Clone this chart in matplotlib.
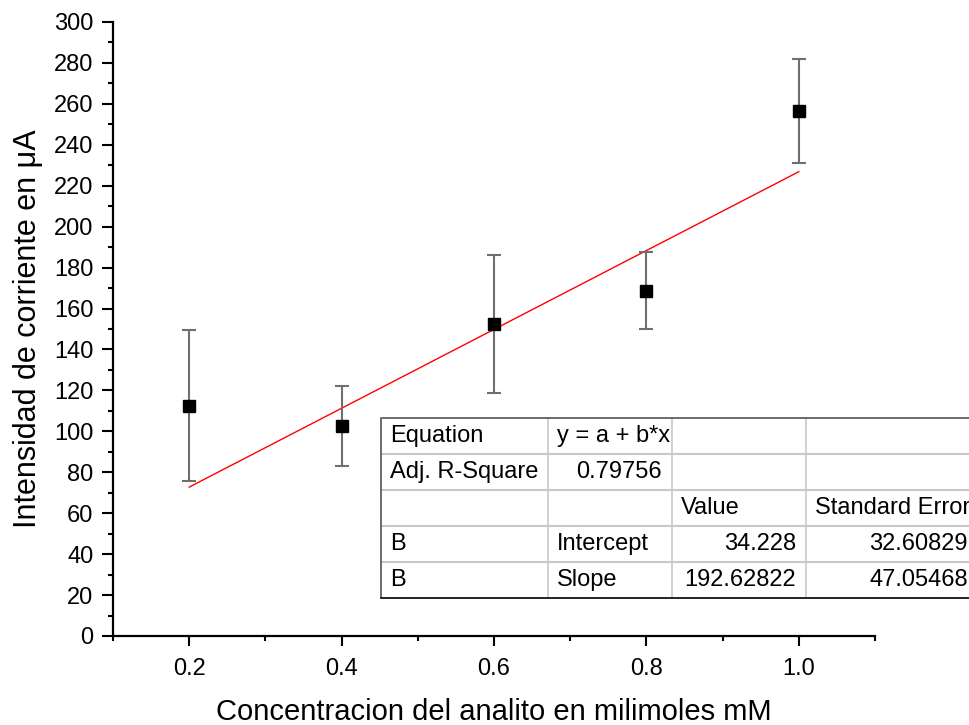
import numpy as np
import matplotlib.pyplot as plt
from matplotlib.ticker import MultipleLocator

plt.rcParams['font.family'] = ['Liberation Sans', 'DejaVu Sans']

# data
conc = [0.2, 0.4, 0.6, 0.8, 1.0]
current = [112.5, 102.8, 152.4, 168.8, 256.4]
err = [37.0, 19.5, 33.8, 18.6, 25.4]

intercept = 34.228
slope = 192.62822

table_rows = [
    ["Equation", "y = a + b*x", "", ""],
    ["Adj. R-Square", "0.79756", "", ""],
    ["", "", "Value", "Standard Error"],
    ["B", "Intercept", "34.228", "32.60829"],
    ["B", "Slope", "192.62822", "47.05468"],
]

W, H = 969, 725
fig = plt.figure(figsize=(W / 100, H / 100), dpi=100)
ax = fig.add_axes([113 / W, 1 - 636 / H, (875 - 113) / W, (636 - 22) / H])

ax.errorbar(conc, current, yerr=err, fmt='none', ecolor='#6f6f6f',
            elinewidth=1.5, capsize=4.7, capthick=1.5, zorder=2)
ax.plot(conc, current, 's', color='black', markersize=8.6, zorder=3)

xf = np.array([conc[0], conc[-1]])
ax.plot(xf, intercept + slope * xf, color='red', lw=1.0, zorder=1)

ax.set_xlim(0.1, 1.1)
ax.set_ylim(0, 300)
ax.set_xticks([0.2, 0.4, 0.6, 0.8, 1.0])
ax.xaxis.set_minor_locator(MultipleLocator(0.2, offset=0.1))
ax.yaxis.set_major_locator(MultipleLocator(20))
ax.yaxis.set_minor_locator(MultipleLocator(10))

for s in ['top', 'right']:
    ax.spines[s].set_visible(False)
for s in ['left', 'bottom']:
    ax.spines[s].set_linewidth(1.6)

ax.tick_params(axis='y', which='major', length=8, width=1.5, labelsize=17, pad=6)
ax.tick_params(axis='y', which='minor', length=3.8, width=1.5)
ax.tick_params(axis='x', which='major', length=7.5, width=1.5, labelsize=17, pad=8)
ax.tick_params(axis='x', which='minor', length=3.5, width=1.5)

ax.set_xlabel("Concentracion del analito en milimoles mM", fontsize=21, labelpad=13)
ax.set_ylabel("Intensidad de corriente en μA", fontsize=22, labelpad=8)

# fit results table, partly cut by the figure edge
ov = fig.add_axes([0, 0, 1, 1])
ov.set_xlim(0, W)
ov.set_ylim(H, 0)
ov.axis('off')

col_x = [381, 548, 672, 806, 978]
row_y = [418, 454, 490, 526, 562, 598]
ov.add_patch(plt.Rectangle((col_x[0], row_y[0]), col_x[-1] - col_x[0],
                           row_y[-1] - row_y[0], facecolor='white', edgecolor='none'))
for y in row_y[1:-1]:
    ov.plot([col_x[0], col_x[-1]], [y, y], color='#c8c8c8', lw=1.5)
for x in col_x[1:-1]:
    ov.plot([x, x], [row_y[0], row_y[-1]], color='#c8c8c8', lw=1.2)
ov.plot([col_x[-1], col_x[0], col_x[0], col_x[-1]],
        [row_y[0], row_y[0], row_y[-1], row_y[-1]], color='#606060', lw=1.3)
ov.plot([col_x[0], col_x[-1]], [row_y[-1], row_y[-1]], color='#222222', lw=1.3)

for i, row in enumerate(table_rows):
    yc = (row_y[i] + row_y[i + 1]) / 2
    for j, txt in enumerate(row):
        if not txt:
            continue
        if txt[0].isdigit():
            ov.text(col_x[j + 1] - 10, yc, txt, ha='right', va='center', fontsize=17)
        else:
            ov.text(col_x[j] + 9, yc, txt, ha='left', va='center', fontsize=17)

fig.savefig("out.png", dpi=100)
